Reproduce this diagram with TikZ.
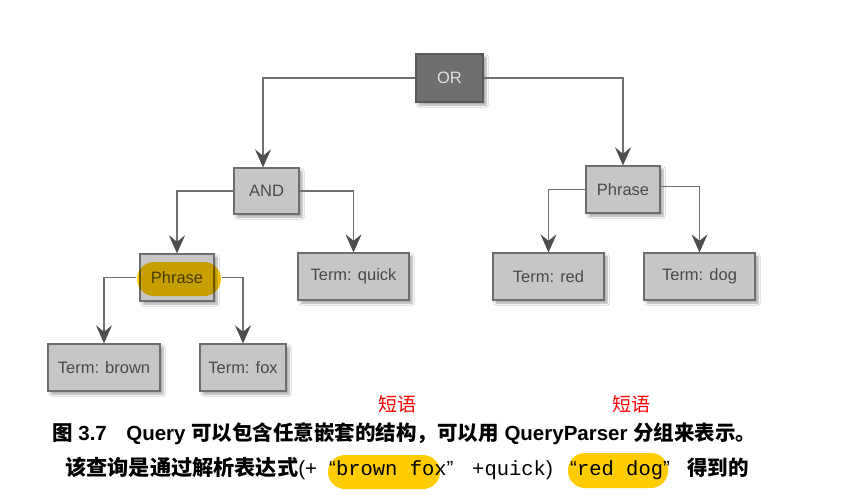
\documentclass[tikz,border=0pt]{standalone}
\usepackage{fontspec}
\setmainfont{Liberation Sans}
\newfontfamily\cjk{Noto Sans CJK SC}
\newfontfamily\monof{Liberation Mono}
\usetikzlibrary{arrows.meta,shadows.blur}
\definecolor{boxfill}{HTML}{C6C6C6}
\definecolor{boxline}{HTML}{6E6E6E}
\definecolor{orfill}{HTML}{6F6F6F}
\definecolor{ortext}{HTML}{E2E2E2}
\definecolor{boxtext}{HTML}{4A4A4A}
\definecolor{edgecol}{HTML}{707070}
\definecolor{arrowcol}{HTML}{4E4E4E}
\definecolor{hlyellow}{HTML}{FFCC00}
\tikzset{
  tbox/.style={draw=boxline, line width=1.3pt, fill=boxfill, text=boxtext,
    font=\fontsize{16.5}{18}\selectfont, inner sep=0pt,
    blur shadow={shadow xshift=3pt, shadow yshift=-3pt, shadow blur steps=6, shadow opacity=35}},
  conn/.style={draw=edgecol, line width=1.3pt,
    -{Stealth[length=18pt,width=16pt,inset=6.5pt,line width=0.6pt,color=arrowcol,fill=arrowcol]}},
  capt/.style={anchor=base west, inner sep=0pt, font=\fontsize{20.5}{24}\selectfont},
  note/.style={inner sep=0pt, text=red, font=\fontsize{19}{22}\selectfont\cjk},
}
\begin{document}
\begin{tikzpicture}[x=1pt,y=-1pt]
\useasboundingbox (0,0) rectangle (868,495);
\fill[white] (0,0) rectangle (868,495);

% tree nodes
\node[tbox, fill=orfill, draw=orfill!80!black, text=ortext, minimum width=67pt, minimum height=48pt] (or) at (449.5,78) {OR};
\node[tbox, minimum width=65pt, minimum height=46pt] (and) at (266.5,191) {AND};
\node[tbox, minimum width=74pt, minimum height=47pt] (p1) at (177,277.5) {Phrase};
\node[tbox, minimum width=111pt, minimum height=47pt] (quick) at (353.5,276.5) {Term: quick};
\node[tbox, minimum width=112pt, minimum height=47pt] (brown) at (104,367.5) {Term: brown};
\node[tbox, minimum width=86pt, minimum height=47pt] (fox) at (243,367.5) {Term: fox};
\node[tbox, minimum width=74pt, minimum height=47pt] (p2) at (623,189.5) {Phrase};
\node[tbox, minimum width=111pt, minimum height=47pt] (red) at (548.5,276.5) {Term: red};
\node[tbox, minimum width=111pt, minimum height=47pt] (dog) at (699.5,276.5) {Term: dog};

% connectors
\draw[conn] (or.west) -| ([xshift=-3.5pt]and.north);
\draw[conn] (or.east) -| (p2.north);
\draw[conn] (and.west) -| (p1.north);
\draw[conn] (and.east) -| (quick.north);
\draw[conn] ([xshift=-3pt]p1.west) -| (brown.north);
\draw[conn] ([xshift=7pt]p1.east) -| (fox.north);
\draw[conn] (p2.west) -| (red.north);
\draw[conn] ([yshift=3pt]p2.east) -| (dog.north);

% highlight on Phrase
\begin{scope}[blend mode=multiply]
\fill[hlyellow, rounded corners=17pt] (137,262) rectangle (221,296);
\end{scope}

% red notes
\node[note] (n1) at (397,404) {短语};
\node[note] (n2) at (631,404) {短语};

% caption highlights
\fill[hlyellow, rounded corners=17pt] (328,455) rectangle (440,489);
\fill[hlyellow, rounded corners=17pt] (568,453) rectangle (668,488);

% caption line 1
\node[capt, font=\fontsize{20.5}{24}\selectfont\bfseries] (c1) at (52,440)
  {{\cjk 图} 3.7\hspace{0.95em}Query {\cjk 可以包含任意嵌套的结构，可以用} QueryParser {\cjk 分组来表示。}};

% caption line 2
\node[capt] (c2a) at (65,475) {{\fontsize{21.2}{24}\selectfont\cjk\bfseries 该查询是通过解析表达式}(+};
\node[capt] (c2b) at (329,475) {“{\monof brown fox}”};
\node[capt] (c2c) at (472,475) {{\monof +quick})};
\node[capt] (c2d) at (570,475) {“{\monof red dog}”};
\node[capt] (c2e) at (687,475) {{\cjk\bfseries 得到的}};
\end{tikzpicture}
\end{document}
